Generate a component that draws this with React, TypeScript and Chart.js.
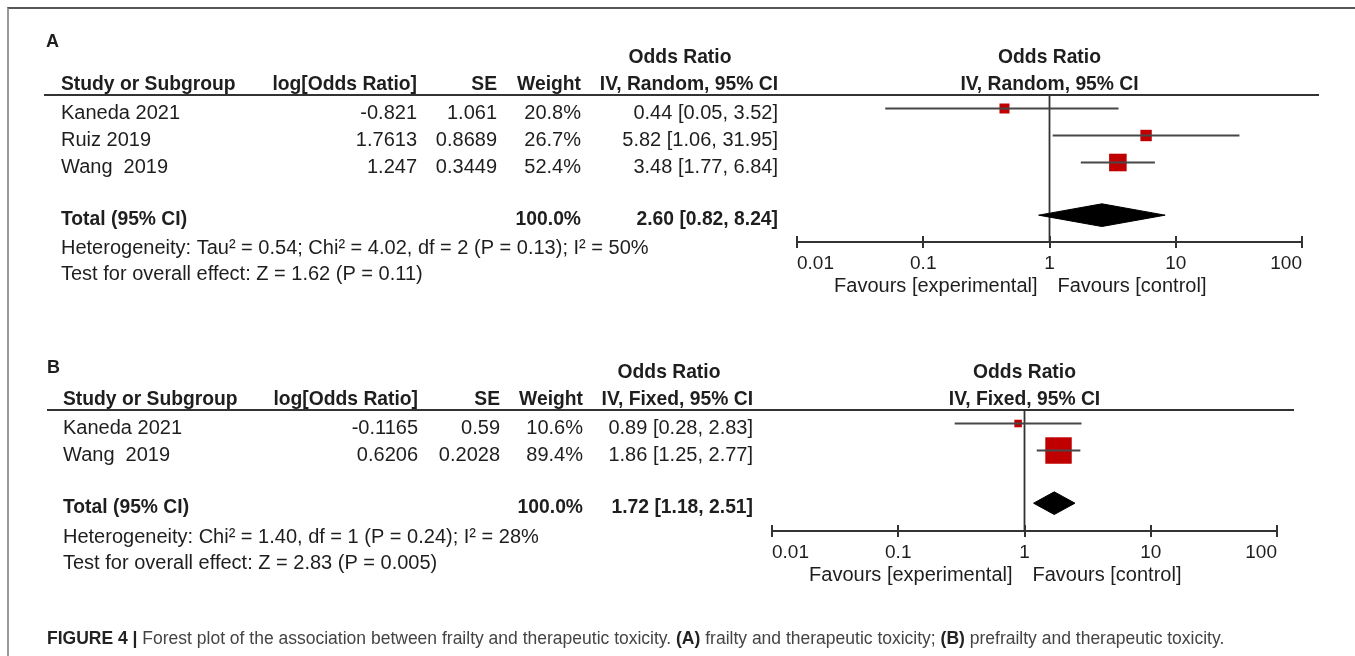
import React, { useEffect, useRef } from "react";
import { Chart, registerables } from "chart.js";

Chart.register(...registerables);

// ---------- Panel A data ----------
const studiesA = ["Kaneda 2021", "Ruiz 2019", "Wang  2019"];
const logOrA = ["-0.821", "1.7613", "1.247"];
const seA = ["1.061", "0.8689", "0.3449"];
const weightA = [20.8, 26.7, 52.4];
const orA = [0.44, 5.82, 3.48];
const ciLowA = [0.05, 1.06, 1.77];
const ciHighA = [3.52, 31.95, 6.84];
const totalA = [2.6, 0.82, 8.24]; // estimate, low, high
const hetA = "Heterogeneity: Tau\u00b2 = 0.54; Chi\u00b2 = 4.02, df = 2 (P = 0.13); I\u00b2 = 50%";
const testA = "Test for overall effect: Z = 1.62 (P = 0.11)";

// ---------- Panel B data ----------
const studiesB = ["Kaneda 2021", "Wang  2019"];
const logOrB = ["-0.1165", "0.6206"];
const seB = ["0.59", "0.2028"];
const weightB = [10.6, 89.4];
const orB = [0.89, 1.86];
const ciLowB = [0.28, 1.25];
const ciHighB = [2.83, 2.77];
const totalB = [1.72, 1.18, 2.51];
const hetB = "Heterogeneity: Chi\u00b2 = 1.40, df = 1 (P = 0.24); I\u00b2 = 28%";
const testB = "Test for overall effect: Z = 2.83 (P = 0.005)";

// ---------- shared labels ----------
const xTicks = [0.01, 0.1, 1, 10, 100];
const favourLabels = ["Favours [experimental]", "Favours [control]"];
const headerLabels = ["Study or Subgroup", "log[Odds Ratio]", "SE", "Weight"];
const totalLabel = "Total (95% CI)";
const totalWeightLabel = "100.0%";

const FONT = '"Liberation Sans", Arial, Helvetica, sans-serif';
const TEXT = "#1e1e1e";

type Panel = {
  letter: string;
  method: string;
  studies: string[];
  logOr: string[];
  se: string[];
  weight: number[];
  or: number[];
  lo: number[];
  hi: number[];
  total: number[];
  het: string;
  test: string;
  L: {
    top: number;
    height: number;
    plotLeft: number;
    plotRight: number;
    areaTop: number;
    yMax: number;
    padBottom: number;
    lineLeft: number;
    lineRight: number;
    letterX: number;
    letterDy: number;
    studyX: number;
    logX: number;
    seX: number;
    wX: number;
    ciX: number;
    orHeadX: number;
  };
};

const fmtCI = (e: number, l: number, h: number) =>
  `${e.toFixed(2)} [${l.toFixed(2)}, ${h.toFixed(2)}]`;

const squareSide = (w: number) => 5 + 0.24 * w;

function makePlugin(p: Panel) {
  const txt = (
    ctx: CanvasRenderingContext2D,
    s: string,
    x: number,
    y: number,
    align: CanvasTextAlign,
    bold: boolean,
    size: number
  ) => {
    ctx.font = `${bold ? "bold " : ""}${size}px ${FONT}`;
    ctx.textAlign = align;
    ctx.textBaseline = "middle";
    ctx.fillText(s, x, y);
  };
  return {
    id: "forest" + p.letter,
    beforeDatasetsDraw(chart: any) {
      const { ctx, chartArea: ca, scales } = chart;
      const xs = scales.x;
      const x1 = xs.getPixelForValue(1);
      ctx.save();
      ctx.strokeStyle = "#333";
      ctx.lineWidth = 2;
      ctx.beginPath();
      ctx.moveTo(p.L.lineLeft, ca.top);
      ctx.lineTo(p.L.lineRight, ca.top);
      ctx.stroke();
      ctx.lineWidth = 1.8;
      ctx.beginPath();
      ctx.moveTo(x1, ca.top);
      ctx.lineTo(x1, ca.bottom);
      ctx.stroke();
      ctx.lineWidth = 2;
      ctx.beginPath();
      for (const t of xs.ticks) {
        const px = Math.round(xs.getPixelForValue(t.value));
        ctx.moveTo(px, ca.bottom + 1);
        ctx.lineTo(px, ca.bottom - 6);
      }
      ctx.stroke();
      ctx.restore();
    },
    afterDraw(chart: any) {
      const { ctx, chartArea: ca, scales } = chart;
      const xs = scales.x;
      const ys = scales.y;
      const x1 = xs.getPixelForValue(1);
      const L = p.L;
      ctx.save();
      ctx.fillStyle = TEXT;
      txt(ctx, p.letter, L.letterX, ca.top + L.letterDy, "left", true, 18);
      const h1 = ca.top - 37;
      const h2 = ca.top - 10;
      txt(ctx, "Odds Ratio", L.orHeadX, h1, "center", true, 19.3);
      txt(ctx, "Odds Ratio", x1, h1, "center", true, 19.3);
      txt(ctx, headerLabels[0], L.studyX, h2, "left", true, 19.3);
      txt(ctx, headerLabels[1], L.logX, h2, "right", true, 19.3);
      txt(ctx, headerLabels[2], L.seX, h2, "right", true, 19.3);
      txt(ctx, headerLabels[3], L.wX, h2, "right", true, 19.3);
      const ivLabel = `IV, ${p.method}, 95% CI`;
      txt(ctx, ivLabel, L.ciX, h2, "right", true, 19.3);
      txt(ctx, ivLabel, x1, h2, "center", true, 19.3);
      p.studies.forEach((s, i) => {
        const y = ys.getPixelForValue(i) + 4.5;
        txt(ctx, s, L.studyX, y, "left", false, 20);
        txt(ctx, p.logOr[i], L.logX, y, "right", false, 20);
        txt(ctx, p.se[i], L.seX, y, "right", false, 20);
        txt(ctx, `${p.weight[i].toFixed(1)}%`, L.wX, y, "right", false, 20);
        txt(ctx, fmtCI(p.or[i], p.lo[i], p.hi[i]), L.ciX, y, "right", false, 20);
      });
      const ty = ys.getPixelForValue(p.studies.length + 0.95) + 4.5;
      txt(ctx, totalLabel, L.studyX, ty, "left", true, 19.3);
      txt(ctx, totalWeightLabel, L.wX, ty, "right", true, 19.3);
      txt(ctx, fmtCI(p.total[0], p.total[1], p.total[2]), L.ciX, ty, "right", true, 19.3);
      txt(ctx, p.het, L.studyX, ca.bottom + 6, "left", false, 20);
      txt(ctx, p.test, L.studyX, ca.bottom + 32, "left", false, 20);
      txt(ctx, favourLabels[0], x1 - 12, ca.bottom + 44, "right", false, 20);
      txt(ctx, favourLabels[1], x1 + 8, ca.bottom + 44, "left", false, 20);
      ctx.restore();
    },
  };
}

function buildDatasets(p: Panel) {
  const ds: any[] = [];
  p.studies.forEach((_, i) => {
    ds.push({
      type: "line",
      data: [
        { x: p.lo[i], y: i },
        { x: p.hi[i], y: i },
      ],
      borderColor: "#474747",
      borderWidth: 2,
      pointRadius: 0,
      fill: false,
      tension: 0,
    });
  });
  ds.push({
    type: "scatter",
    data: p.or.map((v, i) => ({ x: v, y: i })),
    pointStyle: "rect",
    pointRadius: p.weight.map((w) => squareSide(w) / Math.SQRT2),
    backgroundColor: "#c00000",
    borderColor: "#c00000",
    borderWidth: 0,
  });
  const ty = p.studies.length + 0.95;
  const hh = 0.42;
  ds.push({
    type: "line",
    data: [
      { x: p.total[1], y: ty },
      { x: p.total[0], y: ty - hh },
      { x: p.total[2], y: ty },
    ],
    borderColor: "#000",
    borderWidth: 1,
    pointRadius: 0,
    fill: false,
    tension: 0,
  });
  ds.push({
    type: "line",
    data: [
      { x: p.total[1], y: ty },
      { x: p.total[0], y: ty + hh },
      { x: p.total[2], y: ty },
    ],
    borderColor: "#000",
    backgroundColor: "#000",
    borderWidth: 1,
    pointRadius: 0,
    fill: "-1",
    tension: 0,
  });
  return ds;
}

const panelA: Panel = {
  letter: "A",
  method: "Random",
  studies: studiesA,
  logOr: logOrA,
  se: seA,
  weight: weightA,
  or: orA,
  lo: ciLowA,
  hi: ciHighA,
  total: totalA,
  het: hetA,
  test: testA,
  L: {
    top: 0,
    height: 330,
    plotLeft: 797,
    plotRight: 1302,
    areaTop: 95,
    yMax: 4.944,
    padBottom: 28,
    lineLeft: 44,
    lineRight: 1319,
    letterX: 46,
    letterDy: -53,
    studyX: 61,
    logX: 417,
    seX: 497,
    wX: 581,
    ciX: 778,
    orHeadX: 680,
  },
};

const panelB: Panel = {
  letter: "B",
  method: "Fixed",
  studies: studiesB,
  logOr: logOrB,
  se: seB,
  weight: weightB,
  or: orB,
  lo: ciLowB,
  hi: ciHighB,
  total: totalB,
  het: hetB,
  test: testB,
  L: {
    top: 330,
    height: 300,
    plotLeft: 772,
    plotRight: 1277,
    areaTop: 410,
    yMax: 3.98,
    padBottom: 39,
    lineLeft: 47,
    lineRight: 1294,
    letterX: 47,
    letterDy: -42,
    studyX: 63,
    logX: 418,
    seX: 500,
    wX: 583,
    ciX: 753,
    orHeadX: 669,
  },
};

function ForestPanel({ p }: { p: Panel }) {
  const ref = useRef<HTMLCanvasElement | null>(null);
  useEffect(() => {
    if (!ref.current) return;
    const L = p.L;
    const chart = new Chart(ref.current, {
      type: "scatter",
      data: { datasets: buildDatasets(p) },
      options: {
        animation: false,
        responsive: false,
        events: [],
        layout: {
          padding: {
            left: L.plotLeft,
            right: 1355 - L.plotRight,
            top: L.areaTop - L.top,
            bottom: L.padBottom,
          },
        },
        plugins: {
          legend: { display: false },
          tooltip: { enabled: false },
          title: { display: false },
        },
        scales: {
          x: {
            type: "logarithmic",
            position: "bottom",
            min: xTicks[0],
            max: xTicks[xTicks.length - 1],
            afterBuildTicks: (s: any) => {
              s.ticks = xTicks.map((v) => ({ value: v }));
            },
            afterFit: (s: any) => {
              s.height = 60;
            },
            border: { display: true, color: "#333", width: 2 },
            grid: {
              display: true,
              drawOnChartArea: false,
              drawTicks: true,
              tickLength: 6,
              color: "#333",
              lineWidth: 2,
            },
            ticks: {
              autoSkip: false,
              maxRotation: 0,
              minRotation: 0,
              align: "inner",
              padding: 4,
              color: TEXT,
              font: { family: FONT, size: 19 },
              callback: (v: any) => String(v),
            },
          },
          y: {
            type: "linear",
            display: false,
            reverse: true,
            min: -0.5,
            max: L.yMax,
          },
        },
      } as any,
      plugins: [makePlugin(p)],
    });
    return () => chart.destroy();
  }, [p]);
  return (
    <canvas
      ref={ref}
      width={1355}
      height={p.L.height}
      style={{ position: "absolute", left: 0, top: p.L.top, width: 1355, height: p.L.height }}
    />
  );
}

export default function App() {
  return (
    <div
      style={{
        position: "fixed",
        left: 0,
        top: 0,
        width: 1355,
        height: 656,
        background: "#fff",
        overflow: "hidden",
      }}
    >
      <div
        style={{
          position: "absolute",
          left: 7,
          top: 7,
          width: 1360,
          height: 700,
          borderTop: "2px solid #555",
          borderLeft: "2px solid #999",
        }}
      />
      <ForestPanel p={panelA} />
      <ForestPanel p={panelB} />
      <div
        style={{
          position: "absolute",
          left: 47,
          top: 628,
          font: `17.5px ${FONT}`,
          color: "#444",
          whiteSpace: "nowrap",
          lineHeight: "20px",
        }}
      >
        <b style={{ color: "#222" }}>FIGURE 4 |</b> Forest plot of the association between frailty and
        therapeutic toxicity. <b style={{ color: "#222" }}>(A)</b> frailty and therapeutic toxicity;{" "}
        <b style={{ color: "#222" }}>(B)</b> prefrailty and therapeutic toxicity.
      </div>
    </div>
  );
}
